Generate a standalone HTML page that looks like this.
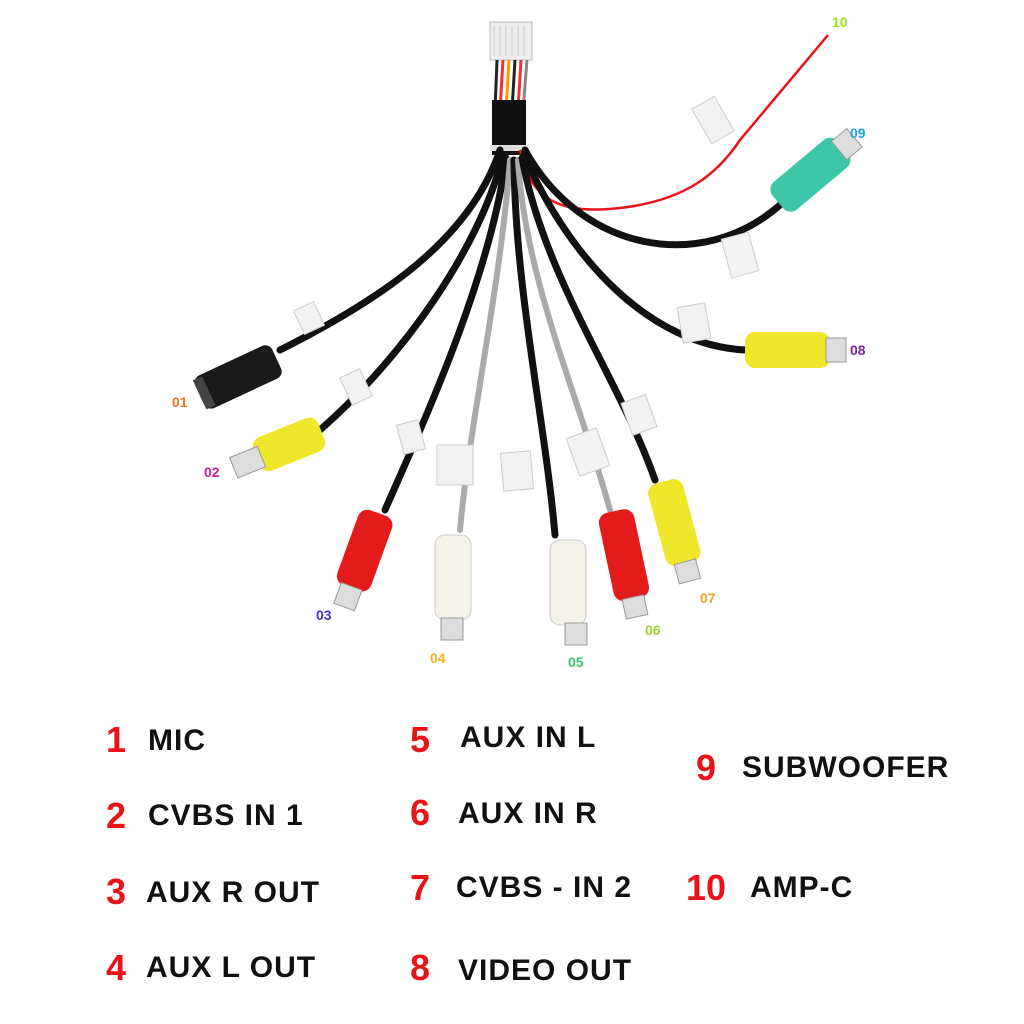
<!DOCTYPE html>
<html><head><meta charset="utf-8"><style>
html,body{margin:0;padding:0;background:#fff;width:1024px;height:1024px;overflow:hidden}
svg{display:block}
.lg{font-family:"Comic Sans MS","Liberation Sans",sans-serif;font-weight:bold;font-size:30px;fill:#111;letter-spacing:1px}
.nm{font-family:"Liberation Sans",sans-serif;font-weight:bold;font-size:36px;fill:#e8141a}
.lb{font-family:"Liberation Sans",sans-serif;font-weight:bold;font-size:14px}
</style></head><body>
<svg width="1024" height="1024" viewBox="0 0 1024 1024">
<rect x="490" y="22" width="42" height="38" fill="#eee" stroke="#bbb"/>
<g stroke="#ccc" stroke-width="1"><line x1="494" y1="26" x2="494" y2="56"/><line x1="500" y1="26" x2="500" y2="56"/><line x1="506" y1="26" x2="506" y2="56"/><line x1="512" y1="26" x2="512" y2="56"/><line x1="518" y1="26" x2="518" y2="56"/><line x1="524" y1="26" x2="524" y2="56"/></g>
<g stroke-width="3" fill="none"><path d="M497 60 L495 110" stroke="#222"/><path d="M503 60 L500 110" stroke="#e33"/><path d="M509 60 L506 110" stroke="#f90"/><path d="M515 60 L512 110" stroke="#222"/><path d="M521 60 L518 110" stroke="#e33"/><path d="M527 60 L523 110" stroke="#888"/></g>
<rect x="492" y="100" width="34" height="55" fill="#111"/>
<rect x="490" y="145" width="38" height="6" fill="#ddd"/>
<path d="M520 150 C530 200 560 215 620 208 C690 200 720 170 740 140 L828 35" stroke="#e8141a" stroke-width="2.5" fill="none"/>
<g fill="none" stroke-linecap="round">
<path d="M500 150 C470 240 380 300 280 350" stroke="#111" stroke-width="7"/>
<path d="M503 155 C480 250 400 360 320 430" stroke="#111" stroke-width="7"/>
<path d="M506 158 C490 280 420 430 385 510" stroke="#111" stroke-width="7"/>
<path d="M510 160 C500 290 470 420 460 530" stroke="#aaa" stroke-width="6"/>
<path d="M514 160 C515 290 545 420 555 535" stroke="#111" stroke-width="7"/>
<path d="M518 160 C525 280 580 400 610 510" stroke="#aaa" stroke-width="6"/>
<path d="M522 158 C545 280 620 380 655 480" stroke="#111" stroke-width="7"/>
<path d="M524 155 C570 260 650 345 745 350" stroke="#111" stroke-width="7"/>
<path d="M525 150 C580 250 700 275 780 205" stroke="#111" stroke-width="7"/>
</g>
<g fill="#f2f2f2" stroke="#ccc">
<rect x="298" y="305" width="22" height="26" transform="rotate(-25 309 318)"/>
<rect x="345" y="372" width="22" height="30" transform="rotate(-25 356 387)"/>
<rect x="400" y="422" width="22" height="30" transform="rotate(-15 411 437)"/>
<rect x="437" y="445" width="36" height="40"/>
<rect x="502" y="452" width="30" height="38" transform="rotate(-5 517 471)"/>
<rect x="572" y="432" width="32" height="40" transform="rotate(-20 588 452)"/>
<rect x="626" y="398" width="26" height="34" transform="rotate(-20 639 415)"/>
<rect x="680" y="305" width="28" height="36" transform="rotate(-10 694 323)"/>
<rect x="726" y="235" width="28" height="40" transform="rotate(-15 740 255)"/>
<rect x="700" y="100" width="26" height="40" transform="rotate(-30 713 120)"/>
</g>
<g transform="rotate(-25 240 375)"><rect x="195" y="358" width="85" height="36" rx="8" fill="#1a1a1a"/><rect x="195" y="360" width="10" height="32" fill="#444"/></g>
<g transform="rotate(-22 275 450)"><rect x="255" y="432" width="70" height="36" rx="10" fill="#f0e62a"/><rect x="230" y="440" width="30" height="22" fill="#ddd" stroke="#999"/></g>
<g transform="rotate(20 362 555)"><rect x="345" y="510" width="36" height="80" rx="10" fill="#e31b1b"/><rect x="352" y="588" width="22" height="22" fill="#ddd" stroke="#999"/></g>
<rect x="435" y="535" width="36" height="85" rx="10" fill="#f5f2ea" stroke="#ccc"/><rect x="441" y="618" width="22" height="22" fill="#ddd" stroke="#999"/>
<rect x="550" y="540" width="36" height="85" rx="10" fill="#f5f2ea" stroke="#ccc"/><rect x="565" y="623" width="22" height="22" fill="#ddd" stroke="#999"/>
<g transform="rotate(-12 625 560)"><rect x="607" y="510" width="36" height="90" rx="10" fill="#e31b1b"/><rect x="614" y="598" width="22" height="20" fill="#ddd" stroke="#999"/></g>
<g transform="rotate(-15 675 525)"><rect x="657" y="480" width="36" height="85" rx="10" fill="#f0e62a"/><rect x="664" y="563" width="22" height="20" fill="#ddd" stroke="#999"/></g>
<rect x="745" y="332" width="85" height="36" rx="10" fill="#f0e62a"/><rect x="826" y="338" width="20" height="24" fill="#ddd" stroke="#999"/>
<g transform="rotate(-40 810 175)"><rect x="768" y="157" width="85" height="36" rx="10" fill="#3cc8a8"/><rect x="848" y="163" width="20" height="24" fill="#ddd" stroke="#999"/></g>
<text class="lb" x="172" y="407" fill="#f07020">01</text>
<text class="lb" x="204" y="477" fill="#c0208a">02</text>
<text class="lb" x="316" y="620" fill="#4030c0">03</text>
<text class="lb" x="430" y="663" fill="#f0b020">04</text>
<text class="lb" x="568" y="667" fill="#40c070">05</text>
<text class="lb" x="645" y="635" fill="#a0d030">06</text>
<text class="lb" x="700" y="603" fill="#f0a020">07</text>
<text class="lb" x="850" y="355" fill="#8020a0">08</text>
<text class="lb" x="850" y="138" fill="#20a0e0">09</text>
<text class="lb" x="832" y="27" fill="#a0e020">10</text>
<text class="nm" x="106" y="752">1</text><text class="lg" x="148" y="750">MIC</text>
<text class="nm" x="106" y="828">2</text><text class="lg" x="148" y="825">CVBS IN 1</text>
<text class="nm" x="106" y="904">3</text><text class="lg" x="146" y="902">AUX R OUT</text>
<text class="nm" x="106" y="980">4</text><text class="lg" x="146" y="977">AUX L OUT</text>
<text class="nm" x="410" y="752">5</text><text class="lg" x="460" y="747">AUX IN L</text>
<text class="nm" x="410" y="825">6</text><text class="lg" x="458" y="823">AUX IN R</text>
<text class="nm" x="410" y="900">7</text><text class="lg" x="456" y="897">CVBS - IN 2</text>
<text class="nm" x="410" y="980">8</text><text class="lg" x="458" y="980">VIDEO OUT</text>
<text class="nm" x="696" y="780">9</text><text class="lg" x="742" y="777">SUBWOOFER</text>
<text class="nm" x="686" y="900">10</text><text class="lg" x="750" y="897">AMP-C</text>
</svg>
</body></html>
